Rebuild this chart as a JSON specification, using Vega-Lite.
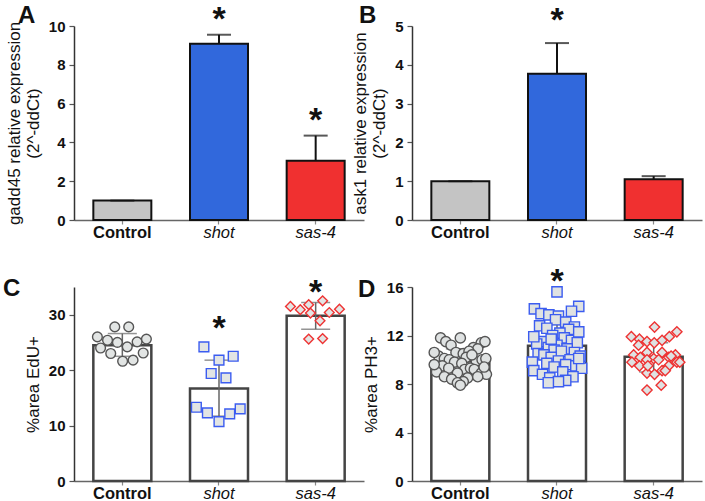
{
  "$schema": "https://vega.github.io/schema/vega-lite/v6.json",
  "padding": {"left": 3, "top": 3, "right": 2, "bottom": 1},
  "background": "white",
  "columns": 2,
  "spacing": {"row": 67, "column": 48},
  "bounds": "flush",
  "config": {
    "view": {"stroke": null},
    "font": "Liberation Sans",
    "axis": {"grid": false, "domainColor": "#333", "domainWidth": 1.5, "tickColor": "#555", "tickWidth": 1.2, "tickSize": 5, "labelFont": "Liberation Sans", "labelFontSize": 15, "labelColor": "#111", "titleFont": "Liberation Sans", "titleFontSize": 17, "titleFontWeight": "normal", "titleColor": "#111", "labelOverlap": false},
    "axisY": {"labelFontWeight": "bold", "titlePadding": 6, "labelPadding": 4},
    "axisX": {"labelAngle": 0, "labelPadding": 0, "tickSize": 4, "labelFontSize": 16.5, "domainColor": "#666", "tickColor": "#888",
      "labelFontWeight": {"condition": {"test": "datum.value == 'Control'", "value": "bold"}, "value": "normal"},
      "labelFontStyle": {"condition": {"test": "datum.value == 'Control'", "value": "normal"}, "value": "italic"}},
    "title": {"anchor": "start", "frame": "group", "fontSize": 24, "fontWeight": "bold", "font": "Liberation Sans", "color": "#111"}
  },
  "datasets": {
    "qA": [
      {"group": "Control", "mean": 1.0, "hi": 1.0, "star": null},
      {"group": "shot", "mean": 9.08, "hi": 9.55, "star": 10.8},
      {"group": "sas-4", "mean": 3.05, "hi": 4.35, "star": 5.6}
    ],
    "qB": [
      {"group": "Control", "mean": 1.0, "hi": 1.0, "star": null},
      {"group": "shot", "mean": 3.77, "hi": 4.56, "star": 5.39},
      {"group": "sas-4", "mean": 1.05, "hi": 1.13, "star": null}
    ],
    "dC": [
      {"group": "Control", "mean": 24.5, "lo": 22.5, "hi": 26.6, "star": null},
      {"group": "shot", "mean": 16.7, "lo": 11.7, "hi": 21.8, "star": 29.2},
      {"group": "sas-4", "mean": 29.8, "lo": 27.4, "hi": 32.2, "star": 35.8},
      {"group": "Control", "v": 27.8, "jit": -0.26},
      {"group": "Control", "v": 27.8, "jit": 0.22},
      {"group": "Control", "v": 26.0, "jit": -0.86},
      {"group": "Control", "v": 25.4, "jit": -0.51},
      {"group": "Control", "v": 25.0, "jit": -0.17},
      {"group": "Control", "v": 24.2, "jit": 0.17},
      {"group": "Control", "v": 25.1, "jit": 0.51},
      {"group": "Control", "v": 25.6, "jit": 0.83},
      {"group": "Control", "v": 24.0, "jit": -0.75},
      {"group": "Control", "v": 23.0, "jit": -0.4},
      {"group": "Control", "v": 21.6, "jit": 0.01},
      {"group": "Control", "v": 21.8, "jit": 0.37},
      {"group": "Control", "v": 23.1, "jit": 0.72},
      {"group": "shot", "v": 24.2, "jit": -0.52},
      {"group": "shot", "v": 21.8, "jit": 0.0},
      {"group": "shot", "v": 22.5, "jit": 0.49},
      {"group": "shot", "v": 19.4, "jit": -0.27},
      {"group": "shot", "v": 18.6, "jit": 0.24},
      {"group": "shot", "v": 13.3, "jit": -0.78},
      {"group": "shot", "v": 12.3, "jit": -0.4},
      {"group": "shot", "v": 10.7, "jit": 0.0},
      {"group": "shot", "v": 12.1, "jit": 0.37},
      {"group": "shot", "v": 13.0, "jit": 0.73},
      {"group": "sas-4", "v": 31.5, "jit": -0.87},
      {"group": "sas-4", "v": 30.9, "jit": -0.53},
      {"group": "sas-4", "v": 31.8, "jit": -0.24},
      {"group": "sas-4", "v": 30.3, "jit": -0.18},
      {"group": "sas-4", "v": 32.5, "jit": 0.24},
      {"group": "sas-4", "v": 30.4, "jit": 0.47},
      {"group": "sas-4", "v": 31.0, "jit": 0.82},
      {"group": "sas-4", "v": 28.9, "jit": 0.15},
      {"group": "sas-4", "v": 25.6, "jit": -0.24},
      {"group": "sas-4", "v": 25.7, "jit": 0.24}
    ],
    "dD": [
      {"group": "Control", "mean": 9.85, "lo": 8.8, "hi": 10.9, "star": null},
      {"group": "shot", "mean": 11.15, "lo": 9.4, "hi": 12.9, "star": 17.2},
      {"group": "sas-4", "mean": 10.25, "lo": 9.0, "hi": 11.4, "star": null},
      {"group": "Control", "v": 11.8, "jit": -0.68}, {"group": "Control", "v": 11.5, "jit": -0.5}, {"group": "Control", "v": 11.8, "jit": 0.0}, {"group": "Control", "v": 11.4, "jit": 0.72}, {"group": "Control", "v": 11.5, "jit": 0.85},
      {"group": "Control", "v": 11.2, "jit": -0.32}, {"group": "Control", "v": 11.0, "jit": 0.45}, {"group": "Control", "v": 10.9, "jit": 0.6}, {"group": "Control", "v": 10.6, "jit": -0.15}, {"group": "Control", "v": 10.5, "jit": 0.1},
      {"group": "Control", "v": 10.7, "jit": 0.3}, {"group": "Control", "v": 10.3, "jit": -0.75}, {"group": "Control", "v": 10.1, "jit": -0.55}, {"group": "Control", "v": 10.0, "jit": -0.38}, {"group": "Control", "v": 10.2, "jit": 0.2},
      {"group": "Control", "v": 9.9, "jit": 0.55}, {"group": "Control", "v": 10.0, "jit": 0.75}, {"group": "Control", "v": 10.1, "jit": 0.88}, {"group": "Control", "v": 9.8, "jit": -0.2}, {"group": "Control", "v": 9.7, "jit": 0.05},
      {"group": "Control", "v": 9.5, "jit": -0.62}, {"group": "Control", "v": 9.3, "jit": -0.4}, {"group": "Control", "v": 9.2, "jit": 0.15}, {"group": "Control", "v": 9.3, "jit": 0.35}, {"group": "Control", "v": 9.2, "jit": 0.48},
      {"group": "Control", "v": 9.0, "jit": -0.82}, {"group": "Control", "v": 8.9, "jit": -0.1}, {"group": "Control", "v": 8.9, "jit": 0.72}, {"group": "Control", "v": 8.8, "jit": 0.9}, {"group": "Control", "v": 8.6, "jit": -0.55},
      {"group": "Control", "v": 8.5, "jit": 0.25}, {"group": "Control", "v": 8.4, "jit": -0.3}, {"group": "Control", "v": 8.2, "jit": 0.1}, {"group": "Control", "v": 8.1, "jit": -0.1}, {"group": "Control", "v": 7.9, "jit": 0.0},
      {"group": "Control", "v": 8.6, "jit": 0.6}, {"group": "Control", "v": 9.6, "jit": -0.9}, {"group": "Control", "v": 10.4, "jit": 0.4}, {"group": "Control", "v": 9.4, "jit": 0.82}, {"group": "Control", "v": 10.6, "jit": -0.9},
      {"group": "shot", "v": 15.6, "jit": 0.0}, {"group": "shot", "v": 14.4, "jit": 0.75}, {"group": "shot", "v": 14.2, "jit": -0.78}, {"group": "shot", "v": 14.0, "jit": 0.5}, {"group": "shot", "v": 13.8, "jit": -0.55},
      {"group": "shot", "v": 13.7, "jit": -0.28}, {"group": "shot", "v": 13.6, "jit": 0.05}, {"group": "shot", "v": 13.3, "jit": -0.05}, {"group": "shot", "v": 13.1, "jit": 0.3}, {"group": "shot", "v": 12.8, "jit": -0.6},
      {"group": "shot", "v": 12.7, "jit": 0.6}, {"group": "shot", "v": 12.5, "jit": 0.4}, {"group": "shot", "v": 12.6, "jit": -0.35}, {"group": "shot", "v": 12.2, "jit": 0.1}, {"group": "shot", "v": 12.0, "jit": -0.15},
      {"group": "shot", "v": 11.8, "jit": 0.25}, {"group": "shot", "v": 11.6, "jit": 0.5}, {"group": "shot", "v": 11.5, "jit": -0.5}, {"group": "shot", "v": 11.4, "jit": 0.7}, {"group": "shot", "v": 11.3, "jit": -0.7},
      {"group": "shot", "v": 11.2, "jit": 0.0}, {"group": "shot", "v": 11.0, "jit": -0.3}, {"group": "shot", "v": 10.9, "jit": 0.35}, {"group": "shot", "v": 10.8, "jit": -0.1}, {"group": "shot", "v": 10.7, "jit": 0.15},
      {"group": "shot", "v": 10.6, "jit": 0.6}, {"group": "shot", "v": 10.5, "jit": -0.65}, {"group": "shot", "v": 10.4, "jit": -0.45}, {"group": "shot", "v": 10.3, "jit": 0.8}, {"group": "shot", "v": 10.2, "jit": -0.2},
      {"group": "shot", "v": 10.0, "jit": 0.45}, {"group": "shot", "v": 9.9, "jit": 0.05}, {"group": "shot", "v": 9.8, "jit": -0.85}, {"group": "shot", "v": 9.7, "jit": -0.35}, {"group": "shot", "v": 9.6, "jit": 0.3},
      {"group": "shot", "v": 9.5, "jit": 0.65}, {"group": "shot", "v": 9.4, "jit": -0.1}, {"group": "shot", "v": 9.3, "jit": 0.85}, {"group": "shot", "v": 9.1, "jit": -0.8}, {"group": "shot", "v": 9.0, "jit": 0.2},
      {"group": "shot", "v": 8.8, "jit": -0.5}, {"group": "shot", "v": 8.6, "jit": 0.55}, {"group": "shot", "v": 8.5, "jit": -0.25}, {"group": "shot", "v": 8.3, "jit": 0.3}, {"group": "shot", "v": 8.2, "jit": 0.05},
      {"group": "shot", "v": 8.1, "jit": -0.3}, {"group": "shot", "v": 12.3, "jit": 0.75}, {"group": "shot", "v": 11.9, "jit": -0.8}, {"group": "shot", "v": 10.1, "jit": 0.75}, {"group": "shot", "v": 11.7, "jit": -0.2},
      {"group": "sas-4", "v": 12.7, "jit": 0.03}, {"group": "sas-4", "v": 12.3, "jit": 0.8}, {"group": "sas-4", "v": 11.9, "jit": -0.77}, {"group": "sas-4", "v": 11.7, "jit": -0.49}, {"group": "sas-4", "v": 11.5, "jit": -0.23},
      {"group": "sas-4", "v": 11.4, "jit": 0.02}, {"group": "sas-4", "v": 11.6, "jit": 0.29}, {"group": "sas-4", "v": 11.9, "jit": 0.54}, {"group": "sas-4", "v": 10.4, "jit": -0.69}, {"group": "sas-4", "v": 10.2, "jit": -0.46},
      {"group": "sas-4", "v": 10.6, "jit": -0.23}, {"group": "sas-4", "v": 10.1, "jit": 0.0}, {"group": "sas-4", "v": 10.6, "jit": 0.29}, {"group": "sas-4", "v": 10.2, "jit": 0.52}, {"group": "sas-4", "v": 10.4, "jit": 0.75},
      {"group": "sas-4", "v": 9.8, "jit": -0.75}, {"group": "sas-4", "v": 9.5, "jit": -0.49}, {"group": "sas-4", "v": 10.0, "jit": -0.23}, {"group": "sas-4", "v": 10.0, "jit": 0.17}, {"group": "sas-4", "v": 9.5, "jit": 0.52},
      {"group": "sas-4", "v": 9.8, "jit": 0.8}, {"group": "sas-4", "v": 8.9, "jit": -0.23}, {"group": "sas-4", "v": 8.8, "jit": 0.03}, {"group": "sas-4", "v": 9.1, "jit": 0.29}, {"group": "sas-4", "v": 7.5, "jit": -0.23},
      {"group": "sas-4", "v": 7.9, "jit": 0.26}, {"group": "sas-4", "v": 11.2, "jit": -0.52}, {"group": "sas-4", "v": 9.8, "jit": 0.9}, {"group": "sas-4", "v": 10.3, "jit": 0.6}, {"group": "sas-4", "v": 9.5, "jit": -0.2},
      {"group": "sas-4", "v": 9.1, "jit": 0.4}
    ]
  },
  "concat": [
    {
      "width": 290, "height": 194,
      "title": {"text": "A", "dx": -56, "dy": 29},
      "data": {"name": "qA"},
      "encoding": {"x": {"field": "group", "type": "nominal", "sort": ["Control", "shot", "sas-4"], "scale": {"paddingInner": 0.34, "paddingOuter": 0.17}, "axis": {"title": null}}},
      "layer": [
        {"mark": {"type": "bar", "stroke": "#111", "strokeWidth": 2, "width": 58},
         "encoding": {"y": {"field": "mean", "type": "quantitative", "scale": {"domain": [0, 10], "nice": false}, "axis": {"values": [0, 2, 4, 6, 8, 10], "title": ["gadd45 relative expression", "(2^-ddCt)"]}},
           "fill": {"field": "group", "type": "nominal", "scale": {"domain": ["Control", "shot", "sas-4"], "range": ["#c4c4c4", "#3168dc", "#f03030"]}, "legend": null}}},
        {"mark": {"type": "rule", "color": "#111", "strokeWidth": 2},
         "encoding": {"y": {"field": "mean", "type": "quantitative", "axis": {"values": [0, 2, 4, 6, 8, 10], "title": ["gadd45 relative expression", "(2^-ddCt)"]}}, "y2": {"field": "hi"}}},
        {"mark": {"type": "tick", "color": "#111", "thickness": 2, "size": 24},
         "encoding": {"y": {"field": "hi", "type": "quantitative", "axis": {"values": [0, 2, 4, 6, 8, 10], "title": ["gadd45 relative expression", "(2^-ddCt)"]}}}},
        {"mark": {"type": "text", "text": "*", "fontSize": 34, "fontWeight": "bold", "baseline": "middle", "dy": 10, "color": "#111"},
         "encoding": {"y": {"field": "star", "type": "quantitative", "axis": {"values": [0, 2, 4, 6, 8, 10], "title": ["gadd45 relative expression", "(2^-ddCt)"]}}}}
      ]
    },
    {
      "width": 290, "height": 194,
      "title": {"text": "B", "dx": -53, "dy": 28},
      "data": {"name": "qB"},
      "encoding": {"x": {"field": "group", "type": "nominal", "sort": ["Control", "shot", "sas-4"], "scale": {"paddingInner": 0.34, "paddingOuter": 0.17}, "axis": {"title": null}}},
      "layer": [
        {"mark": {"type": "bar", "stroke": "#111", "strokeWidth": 2, "width": 58},
         "encoding": {"y": {"field": "mean", "type": "quantitative", "scale": {"domain": [0, 5], "nice": false}, "axis": {"values": [0, 1, 2, 3, 4, 5], "title": ["ask1 relative expression", "(2^-ddCt)"]}},
           "fill": {"field": "group", "type": "nominal", "scale": {"domain": ["Control", "shot", "sas-4"], "range": ["#c4c4c4", "#3168dc", "#f03030"]}, "legend": null}}},
        {"mark": {"type": "rule", "color": "#111", "strokeWidth": 2},
         "encoding": {"y": {"field": "mean", "type": "quantitative", "axis": {"values": [0, 1, 2, 3, 4, 5], "title": ["ask1 relative expression", "(2^-ddCt)"]}}, "y2": {"field": "hi"}}},
        {"mark": {"type": "tick", "color": "#111", "thickness": 2, "size": 24},
         "encoding": {"y": {"field": "hi", "type": "quantitative", "axis": {"values": [0, 1, 2, 3, 4, 5], "title": ["ask1 relative expression", "(2^-ddCt)"]}}}},
        {"mark": {"type": "text", "text": "*", "fontSize": 34, "fontWeight": "bold", "baseline": "middle", "dy": 10, "color": "#111"},
         "encoding": {"y": {"field": "star", "type": "quantitative", "axis": {"values": [0, 1, 2, 3, 4, 5], "title": ["ask1 relative expression", "(2^-ddCt)"]}}}}
      ]
    },
    {
      "width": 290, "height": 194,
      "title": {"text": "C", "dx": -71, "dy": 29},
      "data": {"name": "dC"},
      "encoding": {"x": {"field": "group", "type": "nominal", "sort": ["Control", "shot", "sas-4"], "scale": {"paddingInner": 0.34, "paddingOuter": 0.17}, "axis": {"title": null}}},
      "layer": [
        {"mark": {"type": "bar", "fill": "white", "stroke": "#444", "strokeWidth": 2.5, "width": 58},
         "encoding": {"y": {"field": "mean", "type": "quantitative", "scale": {"domain": [0, 35], "nice": false}, "axis": {"values": [0, 10, 20, 30], "title": "%area  EdU+"}}}},
        {"mark": {"type": "rule", "color": "#666", "strokeWidth": 1.5},
         "encoding": {"y": {"field": "lo", "type": "quantitative", "axis": {"values": [0, 10, 20, 30], "title": "%area  EdU+"}}, "y2": {"field": "hi"}}},
        {"mark": {"type": "tick", "color": "#666", "thickness": 1.5, "size": 29},
         "encoding": {"y": {"field": "lo", "type": "quantitative", "axis": {"values": [0, 10, 20, 30], "title": "%area  EdU+"}}}},
        {"mark": {"type": "tick", "color": "#666", "thickness": 1.5, "size": 29},
         "encoding": {"y": {"field": "hi", "type": "quantitative", "axis": {"values": [0, 10, 20, 30], "title": "%area  EdU+"}}}},
        {"mark": {"type": "point", "opacity": 1, "filled": true, "fill": "#e2e5e4", "strokeWidth": 1.4, "size": 95},
         "encoding": {"y": {"field": "v", "type": "quantitative", "axis": {"values": [0, 10, 20, 30], "title": "%area  EdU+"}},
           "xOffset": {"field": "jit", "type": "quantitative", "scale": {"domain": [-1.1, 1.1]}},
           "shape": {"field": "group", "type": "nominal", "scale": {"domain": ["Control", "shot", "sas-4"], "range": ["circle", "square", "diamond"]}, "legend": null},
           "stroke": {"field": "group", "type": "nominal", "scale": {"domain": ["Control", "shot", "sas-4"], "range": ["#555555", "#3b5cf0", "#ee3333"]}, "legend": null}}},
        {"mark": {"type": "text", "text": "*", "fontSize": 34, "fontWeight": "bold", "baseline": "middle", "dy": 10, "color": "#111"},
         "encoding": {"y": {"field": "star", "type": "quantitative", "axis": {"values": [0, 10, 20, 30], "title": "%area  EdU+"}}}}
      ]
    },
    {
      "width": 290, "height": 194,
      "title": {"text": "D", "dx": -54, "dy": 41},
      "data": {"name": "dD"},
      "encoding": {"x": {"field": "group", "type": "nominal", "sort": ["Control", "shot", "sas-4"], "scale": {"paddingInner": 0.34, "paddingOuter": 0.17}, "axis": {"title": null}}},
      "layer": [
        {"mark": {"type": "bar", "fill": "white", "stroke": "#444", "strokeWidth": 2.5, "width": 58},
         "encoding": {"y": {"field": "mean", "type": "quantitative", "scale": {"domain": [0, 16], "nice": false}, "axis": {"values": [0, 4, 8, 12, 16], "title": "%area  PH3+"}}}},
        {"mark": {"type": "rule", "color": "#666", "strokeWidth": 1.5},
         "encoding": {"y": {"field": "lo", "type": "quantitative", "axis": {"values": [0, 4, 8, 12, 16], "title": "%area  PH3+"}}, "y2": {"field": "hi"}}},
        {"mark": {"type": "tick", "color": "#666", "thickness": 1.5, "size": 29},
         "encoding": {"y": {"field": "lo", "type": "quantitative", "axis": {"values": [0, 4, 8, 12, 16], "title": "%area  PH3+"}}}},
        {"mark": {"type": "tick", "color": "#666", "thickness": 1.5, "size": 29},
         "encoding": {"y": {"field": "hi", "type": "quantitative", "axis": {"values": [0, 4, 8, 12, 16], "title": "%area  PH3+"}}}},
        {"mark": {"type": "point", "opacity": 1, "filled": true, "fill": "#dfe2e2", "strokeWidth": 1.4, "size": 105},
         "encoding": {"y": {"field": "v", "type": "quantitative", "axis": {"values": [0, 4, 8, 12, 16], "title": "%area  PH3+"}},
           "xOffset": {"field": "jit", "type": "quantitative", "scale": {"domain": [-1.1, 1.1]}},
           "shape": {"field": "group", "type": "nominal", "scale": {"domain": ["Control", "shot", "sas-4"], "range": ["circle", "square", "diamond"]}, "legend": null},
           "stroke": {"field": "group", "type": "nominal", "scale": {"domain": ["Control", "shot", "sas-4"], "range": ["#555555", "#3b5cf0", "#ee3333"]}, "legend": null}}},
        {"mark": {"type": "text", "text": "*", "fontSize": 34, "fontWeight": "bold", "baseline": "middle", "dy": 10, "color": "#111"},
         "encoding": {"y": {"field": "star", "type": "quantitative", "axis": {"values": [0, 4, 8, 12, 16], "title": "%area  PH3+"}}}}
      ]
    }
  ]
}
